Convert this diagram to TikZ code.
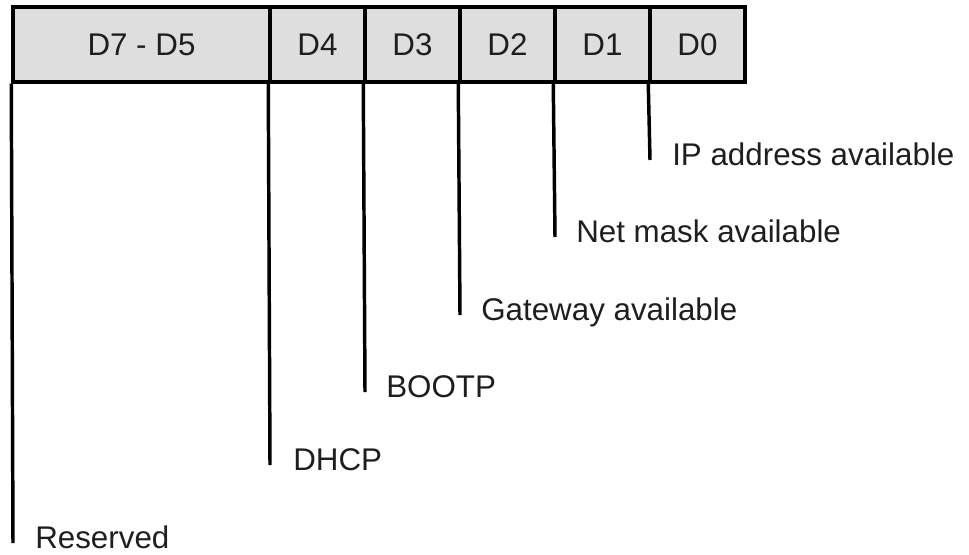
\documentclass[tikz,border=0pt]{standalone}
\usepackage{fontspec}
\setmainfont{Liberation Sans}
\usetikzlibrary{positioning, calc}
\definecolor{cellgray}{RGB}{222, 222, 222}
\definecolor{inkgray}{RGB}{30, 30, 30}

\begin{document}
\begin{tikzpicture}[
  x=0.75pt, y=-0.75pt,
  bitcell/.style={draw=black, line width=2.6pt, fill=cellgray, minimum height=56.25pt, inner sep=0pt, text=inkgray, font=\fontsize{23.5}{28}\selectfont},
  widecell/.style={bitcell, minimum width=192.75pt},
  narrowcell/.style={bitcell, minimum width=71.25pt},
  bitline/.style={draw=black, line width=2.6pt},
  bitlabel/.style={anchor=base west, inner sep=0pt, text=inkgray, font=\fontsize{23.5}{28}\selectfont}
]
  \useasboundingbox (0,0) rectangle (969,554);
  % register cells
  \node[widecell] (d75) at (141.5, 44.5) {D7 - D5};
  \node[narrowcell] (d4) at (317.5, 44.5) {D4};
  \node[narrowcell] (d3) at (412.5, 44.5) {D3};
  \node[narrowcell] (d2) at (507.5, 44.5) {D2};
  \node[narrowcell] (d1) at (602.5, 44.5) {D1};
  \node[narrowcell] (d0) at (697.5, 44.5) {D0};
  % line ends
  \coordinate (e0) at (650, 160);
  \coordinate (e1) at (555, 237);
  \coordinate (e2) at (460, 315);
  \coordinate (e3) at (365, 392);
  \coordinate (e4) at (270, 465);
  \coordinate (e75) at (13, 543);
  % leader lines and meanings
  \draw[bitline] (d0.south west) -- (e0);
  \draw[bitline] (d1.south west) -- (e1);
  \draw[bitline] (d2.south west) -- (e2);
  \draw[bitline] (d3.south west) -- (e3);
  \draw[bitline] (d4.south west) -- (e4);
  \draw[bitline] (d75.south west) -- (e75);
  \node[bitlabel] (l0) at ($(e0)+(22,5)$) {IP address available};
  \node[bitlabel] (l1) at ($(e1)+(21,5)$) {Net mask available};
  \node[bitlabel] (l2) at ($(e2)+(21,5)$) {Gateway available};
  \node[bitlabel] (l3) at ($(e3)+(21,5)$) {BOOTP};
  \node[bitlabel] (l4) at ($(e4)+(23,5)$) {DHCP};
  \node[bitlabel] (l75) at ($(e75)+(22,5)$) {Reserved};
\end{tikzpicture}
\end{document}
